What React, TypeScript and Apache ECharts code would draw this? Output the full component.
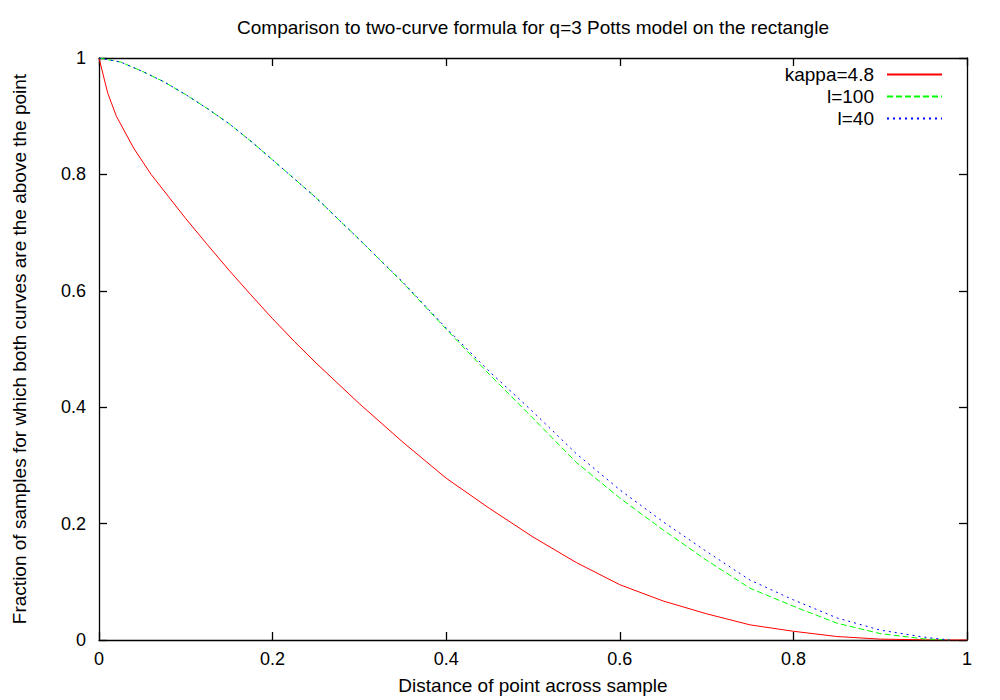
import React, { useEffect, useRef } from "react";
import * as echarts from "echarts";

const titleText = "Comparison to two-curve formula for q=3 Potts model on the rectangle";
const xName = "Distance of point across sample";
const yName = "Fraction of samples for which both curves are the above the point";
const seriesNames = ["kappa=4.8", "l=100", "l=40"];

const kappaX = [0, 0.01, 0.02, 0.04, 0.06, 0.08, 0.1, 0.125, 0.15, 0.175, 0.2, 0.225, 0.25, 0.3, 0.35, 0.4, 0.45, 0.5, 0.55, 0.6, 0.65, 0.7, 0.75, 0.8, 0.85, 0.9, 0.95, 1.0];
const kappaY = [1, 0.94, 0.9, 0.845, 0.8, 0.762, 0.724, 0.679, 0.635, 0.593, 0.552, 0.513, 0.476, 0.406, 0.34, 0.278, 0.226, 0.177, 0.133, 0.095, 0.067, 0.045, 0.026, 0.015, 0.006, 0.0015, 0.0003, 0];

const sampleX = [0, 0.025, 0.05, 0.075, 0.1, 0.125, 0.15, 0.175, 0.2, 0.25, 0.3, 0.35, 0.4, 0.45, 0.5, 0.55, 0.6, 0.65, 0.7, 0.75, 0.8, 0.85, 0.9, 0.95, 0.98];
const l100Y = [1, 0.993, 0.977, 0.959, 0.937, 0.913, 0.887, 0.857, 0.825, 0.76, 0.688, 0.614, 0.534, 0.456, 0.381, 0.305, 0.244, 0.189, 0.137, 0.089, 0.058, 0.029, 0.011, 0.002, 0];
const l40Y = [1, 0.993, 0.977, 0.959, 0.937, 0.913, 0.887, 0.857, 0.825, 0.76, 0.688, 0.615, 0.536, 0.461, 0.392, 0.32, 0.258, 0.203, 0.152, 0.103, 0.069, 0.038, 0.017, 0.005, 0];

const FONT = "'Liberation Sans', Helvetica, Arial, sans-serif";

function pairs(xs: number[], ys: number[]) {
  return xs.map((x, i) => [x, ys[i]]);
}

export default function App() {
  const ref = useRef<HTMLDivElement>(null);
  useEffect(() => {
    if (!ref.current) return;
    const chart = echarts.init(ref.current, undefined, { renderer: "svg" });
    const axisCommon = {
      type: "value" as const,
      min: 0,
      max: 1,
      interval: 0.2,
      splitLine: { show: false },
      axisLine: { show: true, onZero: false, lineStyle: { color: "#000", width: 1.3 } },
      axisTick: { show: true, inside: true, length: 8, lineStyle: { color: "#000", width: 1.3 } },
    };
    chart.setOption({
      animation: false,
      backgroundColor: "#fff",
      textStyle: { fontFamily: FONT, color: "#000" },
      title: {
        text: titleText,
        left: 533,
        top: 18,
        padding: 0,
        textAlign: "center",
        textStyle: { fontFamily: FONT, fontSize: 19, fontWeight: "normal", color: "#000" },
      },
      legend: {
        data: seriesNames,
        orient: "vertical",
        right: 57,
        top: 65,
        align: "right",
        padding: 0,
        itemWidth: 55,
        itemHeight: 12,
        itemGap: 3,
        itemStyle: { opacity: 0 },
        textStyle: { fontFamily: FONT, fontSize: 19, color: "#000", padding: [0, 8, 0, 0] },
      },
      grid: { left: 99, right: 33, top: 58, bottom: 58, containLabel: false },
      xAxis: [
        {
          ...axisCommon,
          position: "bottom",
          name: xName,
          nameLocation: "middle",
          nameGap: 36,
          nameTextStyle: { fontFamily: FONT, fontSize: 19, color: "#000" },
          axisLabel: { show: true, margin: 10, fontFamily: FONT, fontSize: 18, color: "#000" },
        },
        {
          ...axisCommon,
          position: "top",
          axisLabel: { show: false },
        },
      ],
      yAxis: [
        {
          ...axisCommon,
          position: "left",
          name: yName,
          nameLocation: "middle",
          nameGap: 70,
          nameTextStyle: { fontFamily: FONT, fontSize: 19, color: "#000" },
          axisLabel: { show: true, margin: 13, fontFamily: FONT, fontSize: 18, color: "#000" },
        },
        {
          ...axisCommon,
          position: "right",
          axisLabel: { show: false },
        },
      ],
      series: [
        {
          name: seriesNames[0],
          type: "line",
          xAxisIndex: 0,
          yAxisIndex: 0,
          data: pairs(kappaX, kappaY),
          symbol: "none",
          lineStyle: { color: "#ff0000", width: 1, type: "solid" },
          itemStyle: { color: "#ff0000" },
        },
        {
          name: seriesNames[1],
          type: "line",
          xAxisIndex: 0,
          yAxisIndex: 0,
          data: pairs(sampleX, l100Y),
          symbol: "none",
          lineStyle: { color: "#00ff00", width: 1, type: [6, 3] },
          itemStyle: { color: "#00ff00" },
        },
        {
          name: seriesNames[2],
          type: "line",
          xAxisIndex: 0,
          yAxisIndex: 0,
          data: pairs(sampleX, l40Y),
          symbol: "none",
          lineStyle: { color: "#0000ff", width: 1, type: [2, 4] },
          itemStyle: { color: "#0000ff" },
        },
      ],
    });
    return () => chart.dispose();
  }, []);
  return (
    <div
      ref={ref}
      style={{ position: "fixed", left: 0, top: 0, width: 1000, height: 700, background: "#fff" }}
    />
  );
}
